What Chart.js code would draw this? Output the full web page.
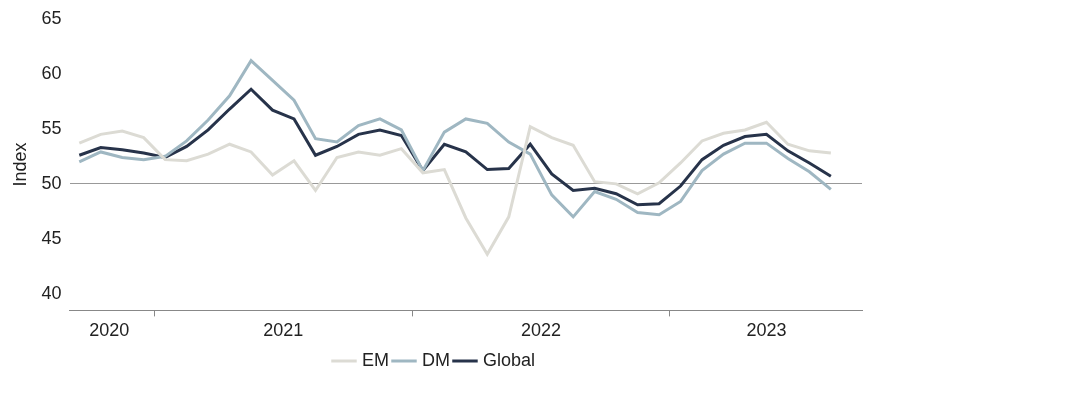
<!DOCTYPE html>
<html>
<head>
<meta charset="utf-8">
<script src="https://cdn.jsdelivr.net/npm/chart.js@4"></script>
<style>
  body { margin: 0; background: #fff; }
  #wrap { width: 1088px; height: 400px; }
</style>
</head>
<body>
<div id="wrap"><canvas id="lineChart"></canvas></div>
<script>
// Monthly, Sep 2020 .. Aug 2023
const em = [53.7, 54.5, 54.8, 54.2, 52.2, 52.1, 52.7, 53.6, 52.9, 50.8, 52.1, 49.4, 52.4, 52.9, 52.6, 53.2, 51.0, 51.3, 46.9, 43.6, 47.0, 55.2, 54.2, 53.5, 50.2, 50.0, 49.1, 50.1, 51.9, 53.9, 54.6, 54.9, 55.6, 53.6, 53.0, 52.8];
const dm = [52.0, 52.9, 52.4, 52.2, 52.5, 53.9, 55.8, 58.0, 61.2, 59.4, 57.6, 54.1, 53.8, 55.3, 55.9, 54.9, 51.2, 54.7, 55.9, 55.5, 53.8, 52.7, 49.0, 47.0, 49.3, 48.6, 47.4, 47.2, 48.4, 51.2, 52.7, 53.7, 53.7, 52.3, 51.1, 49.5];
const globalPmi = [52.6, 53.3, 53.1, 52.8, 52.4, 53.4, 54.9, 56.8, 58.6, 56.7, 55.9, 52.6, 53.4, 54.5, 54.9, 54.4, 51.2, 53.6, 52.9, 51.3, 51.4, 53.6, 50.9, 49.4, 49.6, 49.1, 48.1, 48.2, 49.8, 52.2, 53.5, 54.3, 54.5, 53.0, 51.9, 50.7];
const yearLabels = ['2020', '2021', '2022', '2023'];
const yearCentres = [1.4, 9.5, 21.5, 32];
const yearBreaks = [3.5, 15.5, 27.5];

const toPoints = arr => arr.map((v, i) => ({ x: i, y: v }));
const font = { family: 'Liberation Sans, Arial', size: 18 };

new Chart(document.getElementById('lineChart'), {
    type: 'line',
    data: {
        datasets: [
            { label: 'EM', data: toPoints(em), borderColor: '#dcdbd4', borderWidth: 3, pointRadius: 0, tension: 0 },
            { label: 'DM', data: toPoints(dm), borderColor: '#9fb7c2', borderWidth: 3, pointRadius: 0, tension: 0 },
            { label: 'Global', data: toPoints(globalPmi), borderColor: '#27334a', borderWidth: 3, pointRadius: 0, tension: 0 }
        ]
    },
    options: {
        responsive: true,
        maintainAspectRatio: false,
        animation: false,
        layout: { padding: { top: 14, right: 226, bottom: 20, left: 8 } },
        plugins: {
            legend: {
                position: 'bottom',
                labels: {
                    usePointStyle: true, pointStyle: 'line', boxWidth: 24,
                    color: '#222', font: font, padding: 6
                }
            },
            tooltip: { enabled: false }
        },
        scales: {
            x: {
                type: 'linear',
                min: -0.45,
                max: 36.45,
                afterBuildTicks: axis => {
                    axis.ticks = yearBreaks.concat(yearCentres).map(v => ({ value: v }));
                },
                ticks: {
                    autoSkip: false,
                    maxRotation: 0,
                    color: '#222',
                    font: font,
                    padding: 4,
                    callback: v => {
                        const i = yearCentres.indexOf(v);
                        return i >= 0 ? yearLabels[i] : '';
                    }
                },
                grid: {
                    drawOnChartArea: false,
                    tickLength: 6,
                    color: ctx => (ctx.tick && yearBreaks.includes(ctx.tick.value)) ? '#888' : 'rgba(0,0,0,0)'
                },
                border: { color: '#888', width: 1 }
            },
            y: {
                min: 38.5,
                max: 65,
                afterBuildTicks: axis => {
                    axis.ticks = [40, 45, 50, 55, 60, 65].map(v => ({ value: v }));
                },
                ticks: { color: '#222', font: font, padding: 8 },
                grid: {
                    drawTicks: false,
                    color: ctx => (ctx.tick && ctx.tick.value === 50) ? '#999' : 'rgba(0,0,0,0)'
                },
                border: { display: false },
                title: { display: true, text: 'Index', color: '#222', font: font, padding: 2 }
            }
        }
    }
});
</script>
</body>
</html>
